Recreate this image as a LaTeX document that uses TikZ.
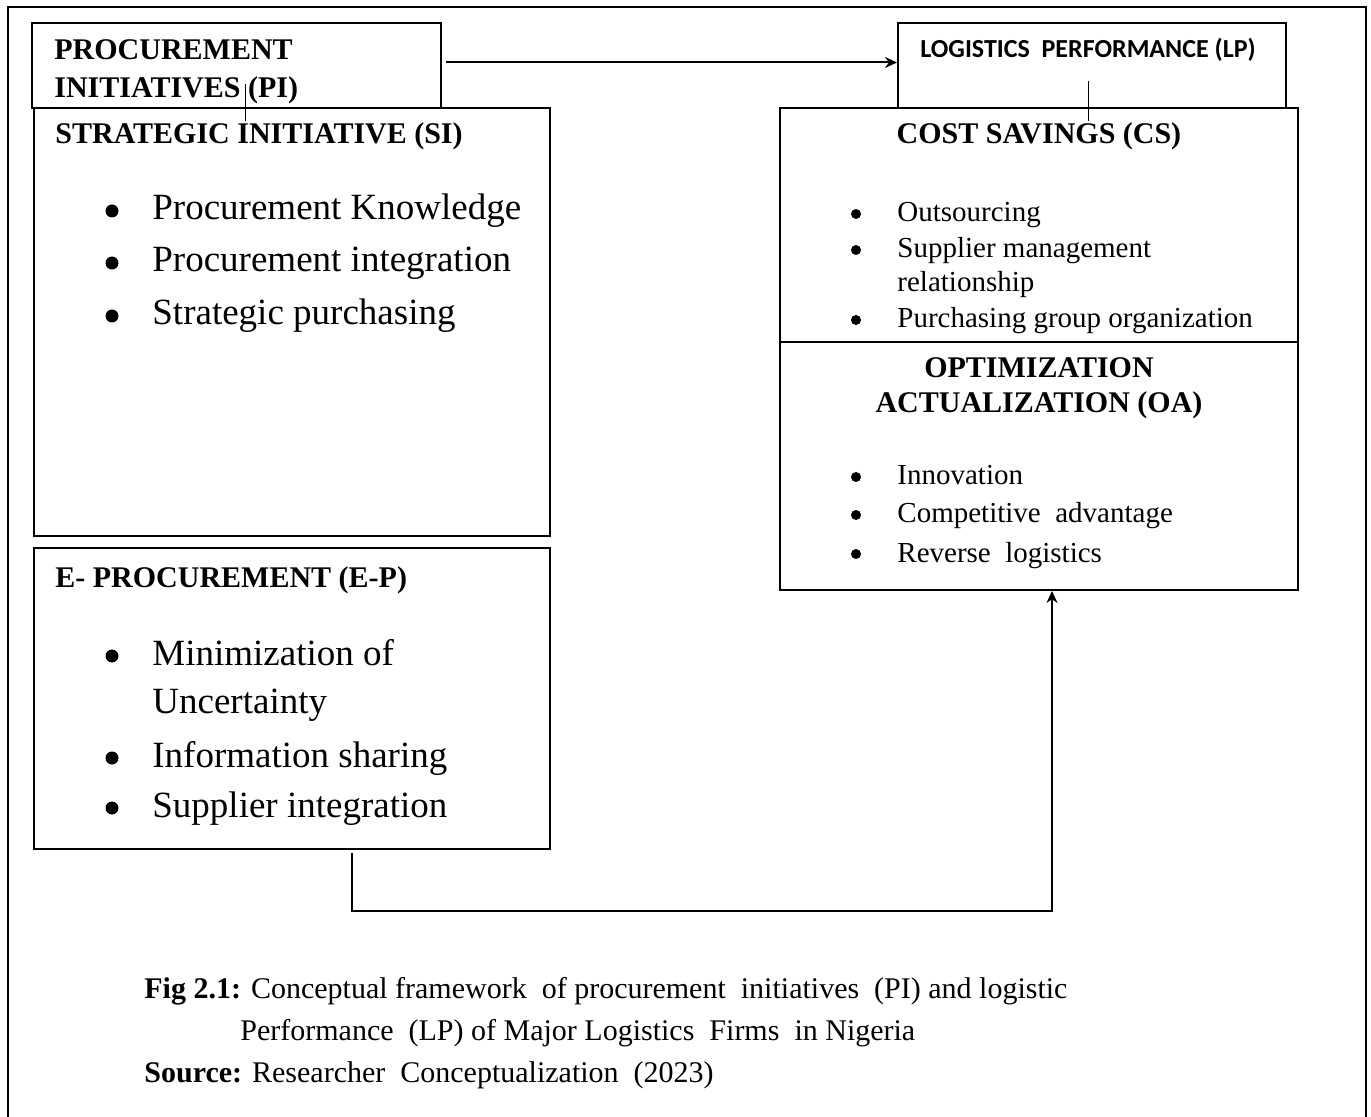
\documentclass[tikz,border=0pt]{standalone}
\usepackage{fontspec}
\setmainfont{Liberation Serif}
\newfontfamily\lpfont{Carlito}
\usetikzlibrary{arrows.meta, positioning, calc}

\begin{document}
\begin{tikzpicture}[
        x=0.5pt, y=-0.5pt,
        box/.style={draw, line width=1pt, minimum width=258pt, inner sep=0pt},
        title/.style={font=\bfseries\fontsize{15}{18}\selectfont, inner sep=0pt},
        bigitem/.style={font=\fontsize{18.5}{22}\selectfont, inner sep=0pt, anchor=base west},
        smallitem/.style={font=\fontsize{14.5}{17}\selectfont, inner sep=0pt, anchor=base west},
        bigdot/.style={circle, fill, inner sep=0pt, minimum size=6.5pt},
        smalldot/.style={circle, fill, inner sep=0pt, minimum size=5pt},
        link/.style={line width=0.5pt},
        flow/.style={line width=1pt, -{Stealth[length=6pt, width=5.5pt]}}
    ]
        \useasboundingbox (0,0) rectangle (1371,1117);
        % Outer frame, bottom edge runs off the page
        \draw[line width=0.8pt] (8,1125) |- (1366,7) -- (1366,1125);

        % Left column
        \node[box, minimum width=204.5pt, minimum height=42.5pt] (pi) at (236.5,65.5) {};
        \node[box, minimum height=214pt] (si) at (292,322) {};
        \node[box, minimum height=150.5pt] (ep) at (292,698.5) {};
        % Right column
        \node[box, minimum width=194pt, minimum height=42.5pt] (lp) at (1092,65.5) {};
        \node[box, minimum width=259pt, minimum height=117pt] (cs) at (1039,225) {};
        \node[box, minimum width=259pt, minimum height=124pt] (oa) at (1039,466) {};

        % Headings
        \node[title, anchor=base west] (pi1) at (54,60) {PROCUREMENT};
        \node[title, anchor=base west] (pi2) at (54,98) {INITIATIVES (PI)};
        \node[title, anchor=base west] (sit) at (55,144) {STRATEGIC INITIATIVE (SI)};
        \node[title, anchor=base west] (ept) at (55,587) {E- PROCUREMENT (E-P)};
        \node[font=\lpfont\bfseries\fontsize{13}{15}\selectfont, inner sep=0pt, anchor=base] (lpt) at (1088,58) {LOGISTICS\ \ PERFORMANCE\ (LP)};
        \node[title, anchor=base] (cst) at (1039,144) {COST SAVINGS (CS)};
        \node[title, anchor=base] (oa1) at (1039,378) {OPTIMIZATION};
        \node[title, anchor=base] (oa2) at (1039,413) {ACTUALIZATION (OA)};

        % Strategic initiative items
        \foreach \y/\t [count=\i] in {220/Procurement Knowledge, 272/Procurement integration, 325/Strategic purchasing} {
            \node[bigdot] (sidot\i) at (112,\y-9) {};
            \node[bigitem] (siitem\i) at (152,\y) {\t};
        }
        % E-procurement items
        \foreach \y/\t [count=\i] in {665/Minimization of, 767/Information sharing, 817/Supplier integration} {
            \node[bigdot] (epdot\i) at (112,\y-9) {};
            \node[bigitem] (epitem\i) at (152,\y) {\t};
        }
        \node[bigitem] (epitem0) at (152,713) {Uncertainty};

        % Cost savings items
        \foreach \y/\t [count=\i] in {222/Outsourcing, 258/Supplier management, 328/Purchasing group organization} {
            \node[smalldot] (csdot\i) at (856,\y-8) {};
            \node[smallitem] (csitem\i) at (897,\y) {\t};
        }
        \node[smallitem] (csitem0) at (897,292) {relationship};
        % Optimization items
        \foreach \y/\t [count=\i] in {485/Innovation, 523/Competitive\ \ advantage, 562/Reverse\ \ logistics} {
            \node[smalldot] (oadot\i) at (856,\y-8) {};
            \node[smallitem] (oaitem\i) at (897,\y) {\t};
        }

        % Connections
        \draw[flow] ($(pi.east)+(4,-3)$) -- ($(lp.west)+(0,-3)$);
        \draw[link] ($(pi.south)+(8.5,-25)$) -- ($(pi.south)+(8.5,12)$);
        \draw[link] ($(lp.south)+(-4,-28)$) -- ($(lp.south)+(-4,12)$);
        \draw[flow] ($(ep.south)+(60,3)$) |- ($(oa.south)+(13,320)$) -- ($(oa.south)+(13,0)$);

        % Caption
        \node[smallitem, font=\fontsize{15}{18}\selectfont] (fig1) at (144,998) {\textbf{Fig 2.1:} Conceptual framework\ \ of procurement\ \ initiatives\ \ (PI) and logistic};
        \node[smallitem, font=\fontsize{15}{18}\selectfont] (fig2) at (240,1040) {Performance\ \ (LP) of Major Logistics\ \ Firms\ \ in Nigeria};
        \node[smallitem, font=\fontsize{15}{18}\selectfont] (src) at (144,1082) {\textbf{Source:} Researcher\ \ Conceptualization\ \ (2023)};
    \end{tikzpicture}
\end{document}
